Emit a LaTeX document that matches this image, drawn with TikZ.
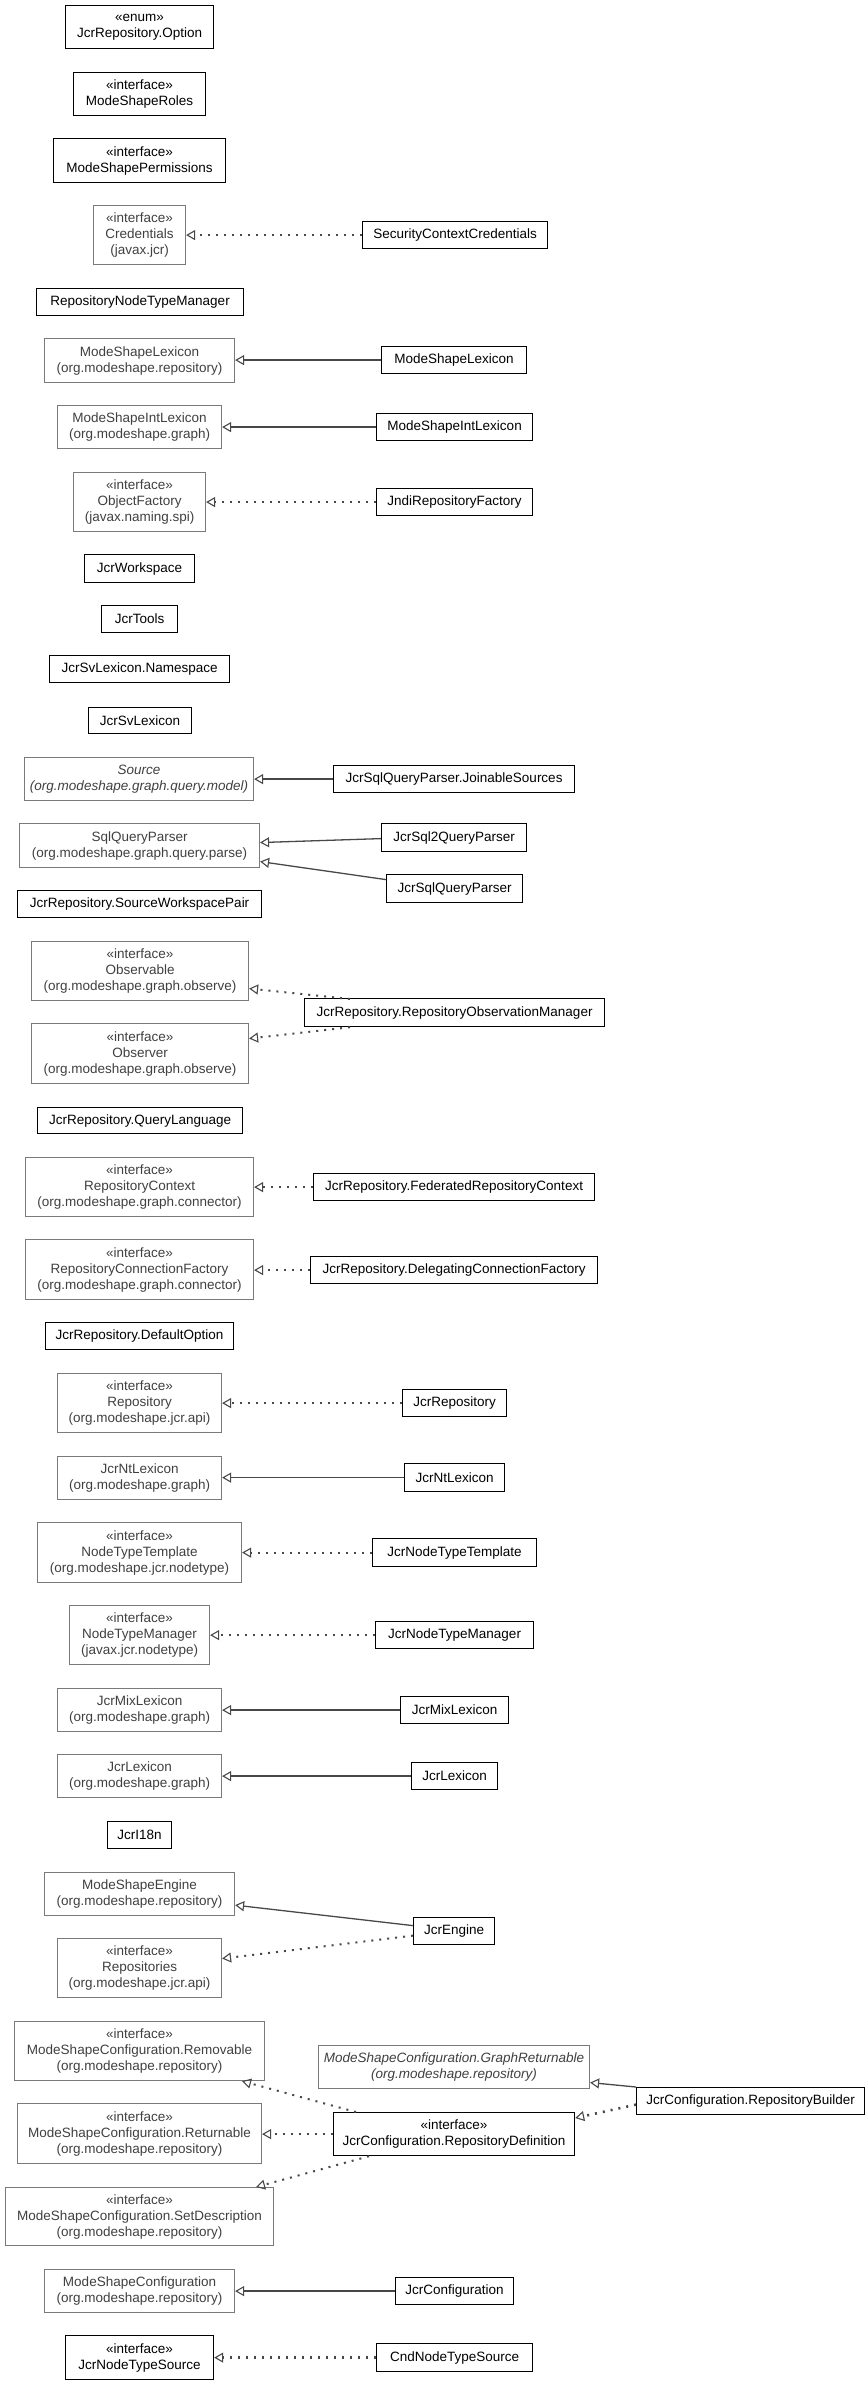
\documentclass[tikz,border=0pt]{standalone}
\usepackage{fontspec}
\setmainfont{Liberation Sans}
\usetikzlibrary{arrows.meta,calc}
\definecolor{gborder}{HTML}{7A7A7A}
\definecolor{gtext}{HTML}{404040}
\definecolor{edgec}{HTML}{484848}
\tikzset{
  cls/.style={draw=black, line width=1.2pt, inner sep=0pt, align=center, fill=white,
    font=\fontsize{13.5}{16}\selectfont},
  ext/.style={draw=gborder, line width=1.1pt, text=gtext, inner sep=0pt, align=center, fill=white,
    font=\fontsize{13.5}{16}\selectfont},
  gen/.style={draw=edgec, line width=1.3pt, -{Triangle[open,length=9pt,width=10pt,line width=1.1pt]}},
  realz/.style={draw=edgec, line width=2pt, dash pattern=on 2pt off 6pt,
    -{Triangle[open,length=9pt,width=10pt,line width=1.1pt]}},
}
\newcommand\umlbox[7]{\node[#1, anchor=north west, minimum width={#5-#3}, minimum height={#6-#4}] (#2) at (#3,#4) {#7};}
\begin{document}
\begin{tikzpicture}[x=1pt,y=-1pt]
\useasboundingbox (0,0) rectangle (867,2384);
\umlbox{cls}{opt}{65}{5}{213}{48}{«enum»\\JcrRepository.Option}
\umlbox{cls}{roles}{73}{72}{205}{115}{«interface»\\ModeShapeRoles}
\umlbox{cls}{perms}{53}{138}{225}{182}{«interface»\\ModeShapePermissions}
\umlbox{ext}{cred}{93}{205}{185}{264}{«interface»\\Credentials\\(javax.jcr)}
\umlbox{cls}{scc}{362}{221}{547}{248}{SecurityContextCredentials}
\umlbox{cls}{rntm}{36}{288}{243}{315}{RepositoryNodeTypeManager}
\umlbox{ext}{mslexP}{44}{338}{234}{382}{ModeShapeLexicon\\(org.modeshape.repository)}
\umlbox{cls}{mslex}{381}{346}{526}{373}{ModeShapeLexicon}
\umlbox{ext}{msilP}{57}{405}{221}{448}{ModeShapeIntLexicon\\(org.modeshape.graph)}
\umlbox{cls}{msil}{376}{413}{532}{440}{ModeShapeIntLexicon}
\umlbox{ext}{objf}{73}{472}{205}{531}{«interface»\\ObjectFactory\\(javax.naming.spi)}
\umlbox{cls}{jndi}{376}{488}{532}{515}{JndiRepositoryFactory}
\umlbox{cls}{ws}{84}{554}{194}{582}{JcrWorkspace}
\umlbox{cls}{tools}{101}{605}{177}{632}{JcrTools}
\umlbox{cls}{svns}{49}{655}{229}{682}{JcrSvLexicon.Namespace}
\umlbox{cls}{sv}{88}{707}{191}{733}{JcrSvLexicon}
\umlbox{ext}{source}{24}{757}{253}{800}{\itshape Source\\\itshape (org.modeshape.graph.query.model)}
\umlbox{cls}{join}{333}{765}{574}{792}{JcrSqlQueryParser.JoinableSources}
\umlbox{ext}{sqp}{19}{823}{259}{867}{SqlQueryParser\\(org.modeshape.graph.query.parse)}
\umlbox{cls}{sqltwo}{381}{823}{526}{851}{JcrSql2QueryParser}
\umlbox{cls}{sql}{386}{874}{522}{902}{JcrSqlQueryParser}
\umlbox{cls}{swp}{17}{890}{261}{917}{JcrRepository.SourceWorkspacePair}
\umlbox{ext}{obsable}{31}{941}{248}{1000}{«interface»\\Observable\\(org.modeshape.graph.observe)}
\umlbox{cls}{rom}{304}{998}{604}{1026}{JcrRepository.RepositoryObservationManager}
\umlbox{ext}{obsr}{31}{1023}{248}{1083}{«interface»\\Observer\\(org.modeshape.graph.observe)}
\umlbox{cls}{ql}{37}{1107}{242}{1133}{JcrRepository.QueryLanguage}
\umlbox{ext}{rctx}{25}{1157}{253}{1216}{«interface»\\RepositoryContext\\(org.modeshape.graph.connector)}
\umlbox{cls}{frc}{313}{1173}{594}{1200}{JcrRepository.FederatedRepositoryContext}
\umlbox{ext}{rcf}{25}{1239}{253}{1299}{«interface»\\RepositoryConnectionFactory\\(org.modeshape.graph.connector)}
\umlbox{cls}{dcf}{310}{1256}{597}{1283}{JcrRepository.DelegatingConnectionFactory}
\umlbox{cls}{dopt}{45}{1322}{233}{1349}{JcrRepository.DefaultOption}
\umlbox{ext}{repoI}{57}{1373}{221}{1432}{«interface»\\Repository\\(org.modeshape.jcr.api)}
\umlbox{cls}{repo}{402}{1389}{506}{1416}{JcrRepository}
\umlbox{ext}{ntP}{57}{1456}{221}{1499}{JcrNtLexicon\\(org.modeshape.graph)}
\umlbox{cls}{nt}{404}{1463}{504}{1491}{JcrNtLexicon}
\umlbox{ext}{nttI}{37}{1522}{241}{1582}{«interface»\\NodeTypeTemplate\\(org.modeshape.jcr.nodetype)}
\umlbox{cls}{ntt}{372}{1538}{536}{1566}{JcrNodeTypeTemplate}
\umlbox{ext}{ntmI}{69}{1605}{209}{1664}{«interface»\\NodeTypeManager\\(javax.jcr.nodetype)}
\umlbox{cls}{ntm}{375}{1621}{533}{1648}{JcrNodeTypeManager}
\umlbox{ext}{mixP}{57}{1688}{221}{1731}{JcrMixLexicon\\(org.modeshape.graph)}
\umlbox{cls}{mix}{400}{1696}{508}{1723}{JcrMixLexicon}
\umlbox{ext}{lexP}{57}{1754}{221}{1797}{JcrLexicon\\(org.modeshape.graph)}
\umlbox{cls}{lex}{411}{1762}{497}{1789}{JcrLexicon}
\umlbox{cls}{ieighteen}{107}{1821}{171}{1848}{JcrI18n}
\umlbox{ext}{mseP}{44}{1872}{234}{1915}{ModeShapeEngine\\(org.modeshape.repository)}
\umlbox{cls}{eng}{413}{1917}{494}{1944}{JcrEngine}
\umlbox{ext}{reposI}{57}{1938}{221}{1997}{«interface»\\Repositories\\(org.modeshape.jcr.api)}
\umlbox{ext}{rem}{14}{2021}{264}{2080}{«interface»\\ModeShapeConfiguration.Removable\\(org.modeshape.repository)}
\umlbox{ext}{gret}{318}{2045}{589}{2088}{\itshape ModeShapeConfiguration.GraphReturnable\\\itshape (org.modeshape.repository)}
\umlbox{cls}{rb}{636}{2087}{864}{2114}{JcrConfiguration.RepositoryBuilder}
\umlbox{cls}{rdef}{333}{2112}{574}{2155}{«interface»\\JcrConfiguration.RepositoryDefinition}
\umlbox{ext}{ret}{17}{2103}{261}{2163}{«interface»\\ModeShapeConfiguration.Returnable\\(org.modeshape.repository)}
\umlbox{ext}{setd}{5}{2187}{273}{2245}{«interface»\\ModeShapeConfiguration.SetDescription\\(org.modeshape.repository)}
\umlbox{ext}{mscP}{44}{2269}{234}{2312}{ModeShapeConfiguration\\(org.modeshape.repository)}
\umlbox{cls}{msc}{395}{2277}{513}{2304}{JcrConfiguration}
\umlbox{cls}{ntsrc}{65}{2335}{213}{2379}{«interface»\\JcrNodeTypeSource}
\umlbox{cls}{cnd}{376}{2343}{532}{2371}{CndNodeTypeSource}
% connectors
\draw[realz] (scc.west) -- (scc.west -| cred.east);
\draw[gen] (mslex.west) -- (mslex.west -| mslexP.east);
\draw[gen] (msil.west) -- (msil.west -| msilP.east);
\draw[realz] (jndi.west) -- (jndi.west -| objf.east);
\draw[gen] (join.west) -- (join.west -| source.east);
\draw[gen] ($(sqltwo.west)+(0,1)$) -- ($(sqp.east)+(0,-3)$);
\draw[gen] ($(sql.west)+(0,-9)$) -- ($(sqp.east)+(0,16)$);
\draw[realz] ($(rom.north west)+(46,1)$) -- ($(obsable.east)+(0,17.5)$);
\draw[realz] ($(rom.south west)+(46,0)$) -- ($(obsr.east)+(0,-15)$);
\draw[realz] (frc.west) -- (frc.west -| rctx.east);
\draw[realz] (dcf.west) -- (dcf.west -| rcf.east);
\draw[realz] (repo.west) -- (repo.west -| repoI.east);
\draw[gen] (nt.west) -- (nt.west -| ntP.east);
\draw[realz] (ntt.west) -- (ntt.west -| nttI.east);
\draw[realz] (ntm.west) -- (ntm.west -| ntmI.east);
\draw[gen] (mix.west) -- (mix.west -| mixP.east);
\draw[gen] (lex.west) -- (lex.west -| lexP.east);
\draw[gen] ($(eng.west)+(0,-5.5)$) -- ($(mseP.south east)+(0,-11)$);
\draw[realz] ($(eng.west)+(0,4.5)$) -- ($(reposI.east)+(0,-9.5)$);
\draw[gen] (rb.north west) -- ($(gret.east)+(0,15.5)$);
\draw[realz, line width=2.6pt] ($(rb.west)+(0,3.5)$) -- ($(rdef.north east)+(0,6)$);
\draw[realz] ($(rdef.north west)+(23,0)$) -- ($(rem.south west)+(228,0)$);
\draw[realz] (rdef.west) -- (rdef.west -| ret.east);
\draw[realz] ($(rdef.south west)+(36,0)$) -- ($(setd.north west)+(251,0)$);
\draw[gen] (msc.west) -- (msc.west -| mscP.east);
\draw[realz, line width=2.6pt] (cnd.west) -- (cnd.west -| ntsrc.east);
\end{tikzpicture}
\end{document}
